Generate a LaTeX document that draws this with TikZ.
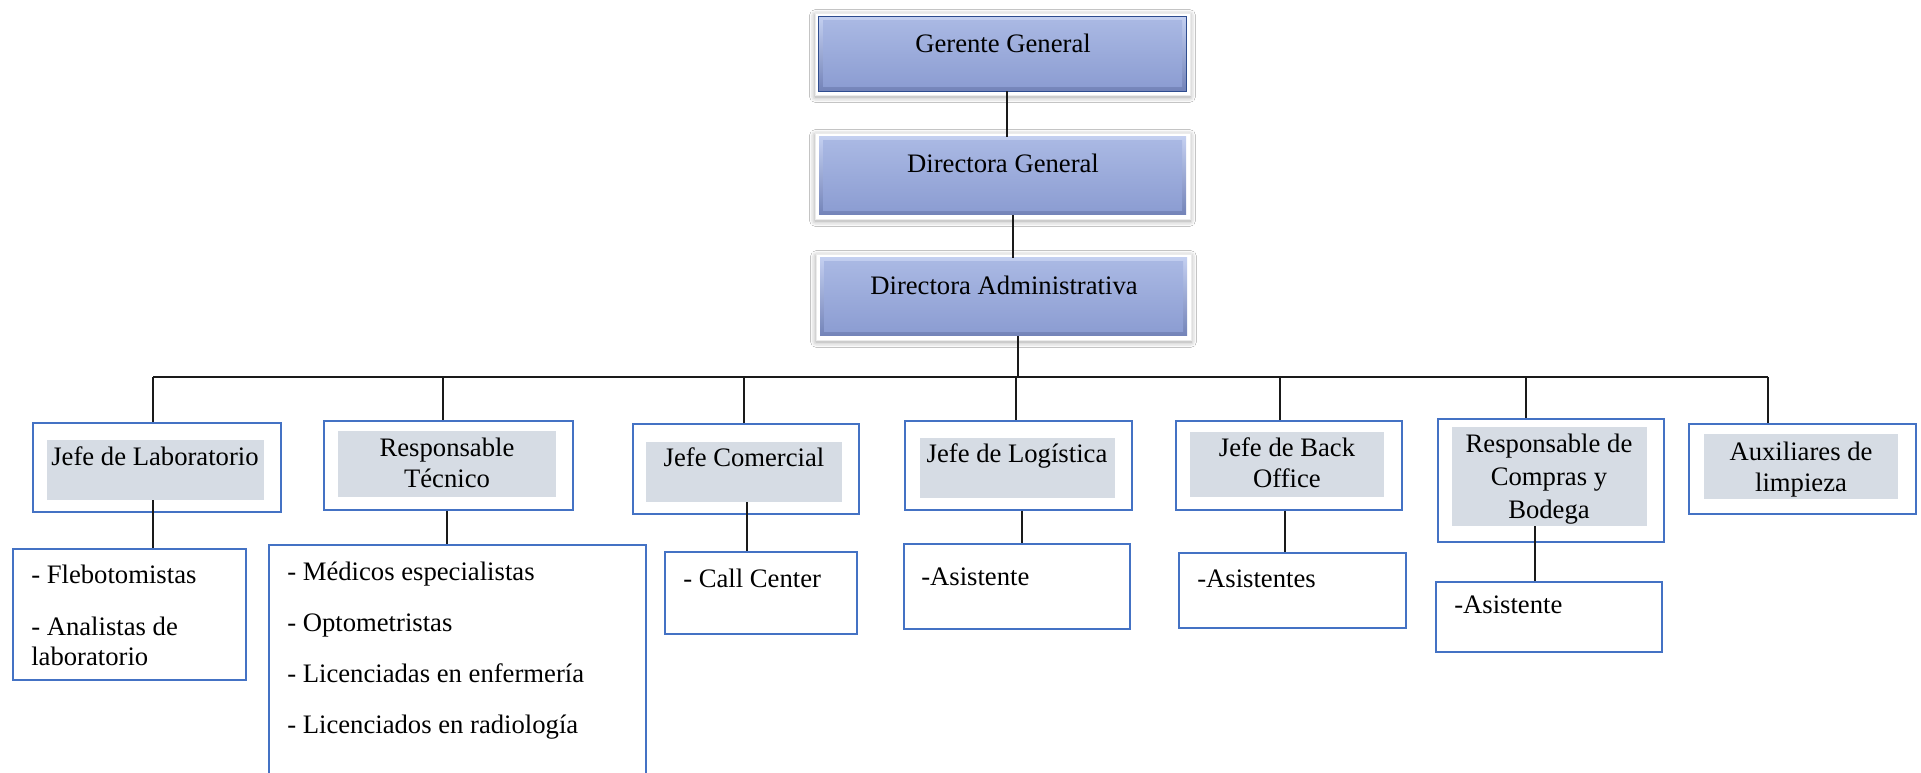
\documentclass[tikz,border=0pt]{standalone}
\usepackage{fontspec}
\setmainfont{Liberation Serif}
\usetikzlibrary{fit,shadows.blur}
\definecolor{bord}{HTML}{4472C4}
\definecolor{grayfill}{HTML}{D6DCE4}
\definecolor{bevtop}{HTML}{C3CFF0}
\definecolor{bevbot}{HTML}{7383B8}
\definecolor{facetop}{HTML}{A9B8E3}
\definecolor{facebot}{HTML}{8C9DD2}
\definecolor{darkblue}{HTML}{2E4C8E}
\definecolor{linec}{HTML}{1A1A1A}
\tikzset{
  topframe/.style={fill=white, draw=white!92!black, line width=0.4pt, inner sep=0pt,
    blur shadow={shadow xshift=0pt, shadow yshift=-1.5pt, shadow blur radius=4pt, shadow opacity=40}},
  bevelbase/.style={inner sep=0pt, top color=bevtop, bottom color=bevbot},
  bevelface/.style={inner sep=0pt, top color=facetop, bottom color=facebot},
  lbox/.style={draw=bord, line width=1.1pt, fill=white, inner sep=0pt},
  gbox/.style={fill=grayfill, inner sep=0pt},
  title/.style={anchor=base, align=center, inner sep=0pt},
  item/.style={anchor=base west, align=left, inner sep=0pt},
  conn/.style={draw=linec, line width=1.1pt}
}
\begin{document}
\begin{tikzpicture}[x=0.75pt,y=-0.75pt, font=\fontsize{20}{23.6}\selectfont]
\useasboundingbox (0,0) rectangle (1921,773);
\fill[white] (0,0) rectangle (1921,773);

% ---- top boxes ----
\node[topframe, fit={(815,13) (1190,95)}] (g) {};
\node[bevelbase, fit={(819,17) (1186,91)}] (gb) {};
\node[bevelface, fit={(823,21) (1182,87)}] (gf) {};
\draw[darkblue, line width=1.1pt] (gb.north west) rectangle (gb.south east);
\node[title] (gt) at (1003,53) {Gerente General};

\node[topframe, fit={(815,133) (1190,219)}] (dg) {};
\node[bevelbase, fit={(819,137) (1186,215)}] (dgb) {};
\node[bevelface, fit={(823,141) (1182,211)}] (dgf) {};
\node[title] (dgt) at (1003,173) {Directora General};

\node[topframe, fit={(816,254) (1191,340)}] (da) {};
\node[bevelbase, fit={(820,258) (1187,336)}] (dab) {};
\node[bevelface, fit={(824,262) (1183,332)}] (daf) {};
\node[title] (dat) at (1004,295) {Directora Administrativa};

% ---- connectors top ----
\coordinate (c1) at (1007,0);
\coordinate (c2) at (1013,0);
\draw[conn] (gb.south -| c1) -- (dgb.north -| c1);
\draw[conn] (dgb.south -| c2) -- (dab.north -| c2);

% ---- bus ----
\coordinate (bus) at (1018,377);
\coordinate (b1) at (153,377);
\coordinate (b2) at (443,377);
\coordinate (b3) at (744,377);
\coordinate (b4) at (1016,377);
\coordinate (b5) at (1280,377);
\coordinate (b6) at (1526,377);
\coordinate (b7) at (1768,377);
\draw[conn] (dab.south -| bus) -- (bus);
\draw[conn] (b1) -- (b7);

% ---- level 2 ----
\node[lbox, fit={(33,423) (281,512)}] (l1) {};
\node[gbox, fit={(47,440) (264,500)}] (l1g) {};
\node[title] (l1t) at (155,465) {Jefe de Laboratorio};

\node[lbox, fit={(324,421) (573,510)}] (l2) {};
\node[gbox, fit={(338,431) (556,497)}] (l2g) {};
\node[title] (l2t) at (447,488) {Responsable\\Técnico};

\node[lbox, fit={(633,424) (859,514)}] (l3) {};
\node[gbox, fit={(646,442) (842,502)}] (l3g) {};
\node[title] (l3t) at (744,467) {Jefe Comercial};

\node[lbox, fit={(905,421) (1132,510)}] (l4) {};
\node[gbox, fit={(920,438) (1115,498)}] (l4g) {};
\node[title] (l4t) at (1017,463) {Jefe de Logística};

\node[lbox, fit={(1176,421) (1402,510)}] (l5) {};
\node[gbox, fit={(1190,432) (1384,497)}] (l5g) {};
\node[title] (l5t) at (1287,488) {Jefe de Back\\Office};

\node[lbox, fit={(1438,419) (1664,542)}] (l6) {};
\node[gbox, fit={(1452,427) (1647,526)}] (l6g) {};
\node[title, font=\fontsize{20}{24.5}\selectfont] (l6t) at (1549,518) {Responsable de\\Compras y\\Bodega};

\node[lbox, fit={(1689,424) (1916,514)}] (l7) {};
\node[gbox, fit={(1704,434) (1898,499)}] (l7g) {};
\node[title] (l7t) at (1801,492) {Auxiliares de\\limpieza};

\draw[conn] (b1) -- (l1.north -| b1);
\draw[conn] (b2) -- (l2.north -| b2);
\draw[conn] (b3) -- (l3.north -| b3);
\draw[conn] (b4) -- (l4.north -| b4);
\draw[conn] (b5) -- (l5.north -| b5);
\draw[conn] (b6) -- (l6.north -| b6);
\draw[conn] (b7) -- (l7.north -| b7);

% ---- level 3 ----
\node[lbox, fit={(13,549) (246,680)}] (k1) {};
\node[item] (k1a) at (31,583) {- Flebotomistas};
\node[item, font=\fontsize{20}{22.5}\selectfont] (k1b) at (31,665) {- Analistas de\\laboratorio};

\node[lbox, fit={(269,545) (646,800)}] (k2) {};
\node[item] (k2a) at (287,580) {- Médicos especialistas};
\node[item] (k2b) at (287,631) {- Optometristas};
\node[item] (k2c) at (287,682) {- Licenciadas en enfermería};
\node[item] (k2d) at (287,733) {- Licenciados en radiología};

\node[lbox, fit={(665,552) (857,634)}] (k3) {};
\node[item] (k3a) at (683,587) {- Call Center};

\node[lbox, fit={(904,544) (1130,629)}] (k4) {};
\node[item] (k4a) at (921,585) {-Asistente};

\node[lbox, fit={(1179,553) (1406,628)}] (k5) {};
\node[item] (k5a) at (1197,587) {-Asistentes};

\node[lbox, fit={(1436,582) (1662,652)}] (k6) {};
\node[item] (k6a) at (1454,613) {-Asistente};

\coordinate (d1) at (153,0);
\coordinate (d2) at (447,0);
\coordinate (d3) at (747,0);
\coordinate (d4) at (1022,0);
\coordinate (d5) at (1285,0);
\coordinate (d6) at (1535,0);
\draw[conn] (l1g.south -| d1) -- (k1.north -| d1);
\draw[conn] (l2.south -| d2) -- (k2.north -| d2);
\draw[conn] (l3g.south -| d3) -- (k3.north -| d3);
\draw[conn] (l4.south -| d4) -- (k4.north -| d4);
\draw[conn] (l5.south -| d5) -- (k5.north -| d5);
\draw[conn] (l6g.south -| d6) -- (k6.north -| d6);
\end{tikzpicture}
\end{document}
